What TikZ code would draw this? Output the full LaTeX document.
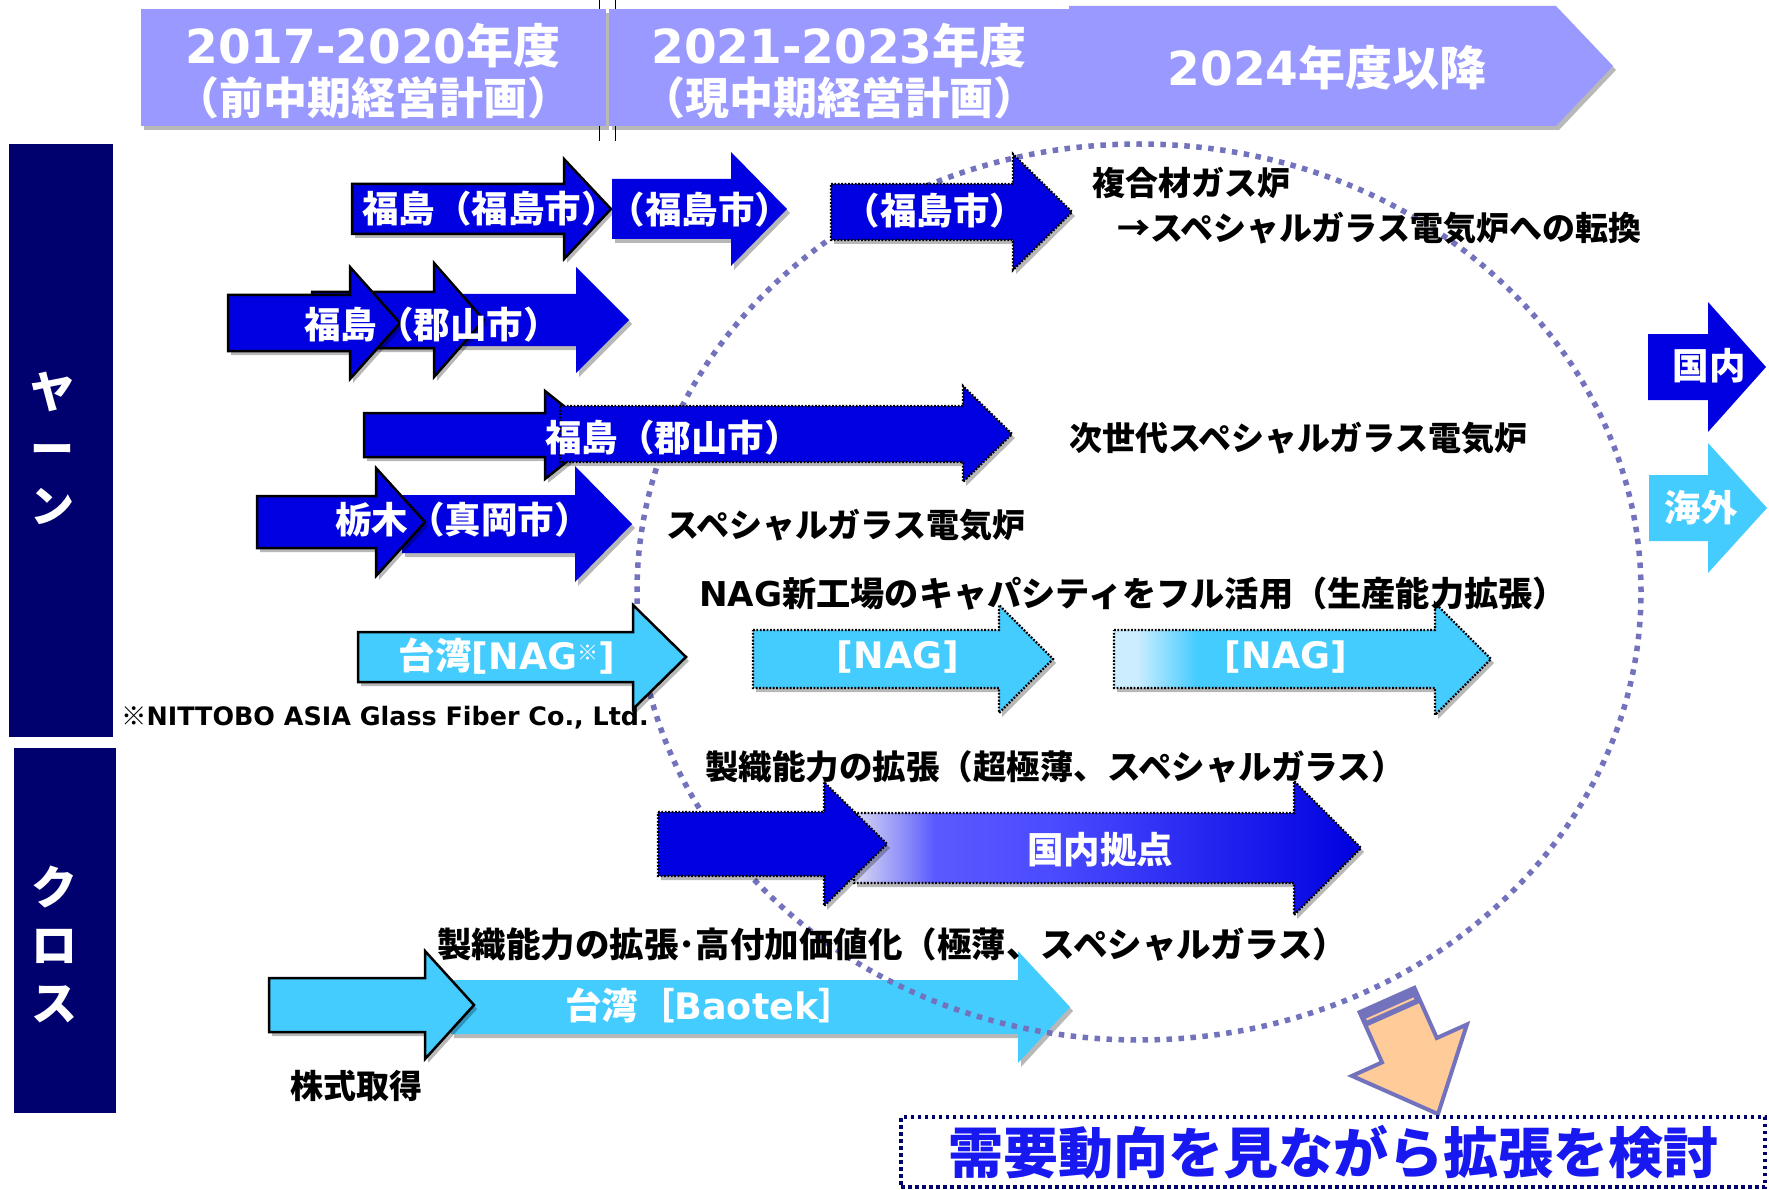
\documentclass[tikz,border=0pt]{standalone}
\usepackage{fontspec}
\setmainfont{DejaVu Sans}
\newfontfamily\jp{Noto Sans CJK JP}
\newfontfamily\lt{DejaVu Sans}
\usetikzlibrary{shadows}
\definecolor{hdr}{HTML}{9999FF}
\definecolor{navy}{HTML}{00006E}
\definecolor{blu}{HTML}{0000E0}
\definecolor{lblu}{HTML}{45CCFF}
\definecolor{ell}{HTML}{7373BD}
\definecolor{peach}{HTML}{FFCC99}
\definecolor{btxt}{HTML}{1818F0}
\pgfdeclarehorizontalshading{nagsh}{100bp}{rgb(0bp)=(0.8,0.93,1); rgb(28bp)=(0.8,0.93,1); rgb(36bp)=(0.27,0.8,1); rgb(100bp)=(0.27,0.8,1)}
\pgfdeclarehorizontalshading{kokush}{100bp}{rgb(0bp)=(0.85,0.85,0.95); rgb(25bp)=(0.85,0.85,0.95); rgb(30bp)=(0.55,0.55,0.98); rgb(33bp)=(0.35,0.35,1); rgb(45bp)=(0.29,0.29,1); rgb(70bp)=(0.05,0.05,0.9); rgb(75bp)=(0,0,0.88); rgb(100bp)=(0,0,0.88)}
% #1 style, #2 x0, #3 head base x, #4 tip x, #5 centre y, #6 body half height, #7 head half height
\newcommand{\harr}[7][]{\path[#1] (#2,{#5-#6}) -- (#3,{#5-#6}) -- (#3,{#5-#7}) -- (#4,#5) -- (#3,{#5+#7}) -- (#3,{#5+#6}) -- (#2,{#5+#6}) -- cycle;}
\begin{document}
\begin{tikzpicture}[x=1pt,y=-1pt,
 sh/.style={drop shadow={shadow xshift=3pt,shadow yshift=-4pt,opacity=0.28,fill=black}},
 solidout/.style={draw=black,line width=2.5pt,line join=miter},
 dotout/.style={draw=black,line width=2.2pt,dash pattern=on 1.8pt off 1.6pt},
 wt/.style={text=white,inner sep=0pt,font=\jp\bfseries\fontsize{36.5}{36.5}\selectfont},
 bt/.style={text=black,inner sep=0pt,anchor=west,font=\jp\bfseries\fontsize{33}{33}\selectfont},
 ht/.style={text=white,inner sep=0pt,font=\jp\bfseries\fontsize{47}{47}\selectfont},
 hts/.style={text=white,inner sep=0pt,font=\jp\bfseries\fontsize{44}{44}\selectfont},
 side/.style={text=white,inner sep=0pt,align=center},
]
\useasboundingbox (0,0) rectangle (1769,1190);
\fill[white] (0,0) rectangle (1769,1190);
% header
\draw[black,line width=1pt] (599,0) -- (599,141);
\draw[black,line width=1pt] (615,0) -- (615,141);
\fill[hdr,sh] (141,9) rectangle (606,126);
\fill[hdr,sh] (609,9) rectangle (1069,126);
\fill[hdr,sh] (1069,6) -- (1556,6) -- (1613,66) -- (1556,126) -- (1069,126) -- cycle;
\node[ht] (h1a) at (373,46) {{\lt 2017-2020}年度};
\node[hts] (h1b) at (373,98) {（前中期経営計画）};
\node[ht] (h2a) at (839,46) {{\lt 2021-2023}年度};
\node[hts] (h2b) at (839,98) {（現中期経営計画）};
\node[ht] (h3) at (1327,68) {{\lt 2024}年度以降};
% side labels
\fill[navy] (9,144) rectangle (113,737);
\fill[navy] (14,748) rectangle (116,1113);
\node[side,font=\jp\bfseries\fontsize{44}{57}\selectfont] (yarn) at (52,448) {ヤ\\ー\\ン};
\node[side,font=\jp\bfseries\fontsize{46}{58}\selectfont] (cloth) at (54,944) {ク\\ロ\\ス};
% arrow behind the ellipse
\harr[fill=lblu,sh]{451}{1018}{1070}{1007}{27}{56}
% ellipse
\draw[ell,line width=5.5pt,dash pattern=on 5.5pt off 6.5pt] (1139,592) ellipse [x radius=502pt,y radius=448pt];
% row 1
\harr[fill=blu,solidout,sh]{352}{564}{611}{209}{25}{50}
\harr[fill=blu,sh]{612}{731}{787}{209}{30}{57}
\harr[fill=blu,dotout,sh]{831}{1013}{1072}{212}{28}{58}
% row 2
\harr[fill=blu,sh]{320}{576}{629}{320}{26}{53}
\harr[fill=blu,solidout,sh]{312}{434}{484}{320}{28}{57}
\harr[fill=blu,solidout,sh]{228}{350}{400}{323}{28}{56}
% row 3
\harr[fill=blu,solidout,sh]{364}{545}{600}{435}{22}{44}
\harr[fill=blu,dotout,sh]{560}{963}{1012}{434}{28}{48}
% row 4
\harr[fill=blu,sh]{402}{575}{632}{524}{29}{58}
\harr[fill=blu,solidout,sh]{257}{376}{425}{522}{26}{54}
% row 5
\harr[fill=lblu,solidout,sh]{358}{633}{686}{657}{25}{52}
\harr[fill=lblu,dotout,sh]{753}{999}{1053}{659}{29}{54}
\harr[shade,shading=nagsh,dotout,sh]{1114}{1435}{1491}{659}{29}{56}
% row 6
\harr[shade,shading=kokush,dotout,sh]{854}{1294}{1361}{848}{35}{67}
\harr[fill=blu,dotout,sh]{658}{824}{887}{844}{32}{62}
% row 7
\harr[fill=lblu,solidout,sh]{269}{425}{474}{1005}{27}{54}
% right arrows
\harr[fill=blu]{1648}{1708}{1766}{367}{33}{65}
\harr[fill=lblu]{1649}{1708}{1767}{508}{33}{65}
% arrow texts
\node[wt] (t1) at (490,209) {福島（福島市）};
\node[wt] (t2) at (700,210) {（福島市）};
\node[wt] (t3) at (935,211) {（福島市）};
\node[wt] (t4) at (432,325) {福島（郡山市）};
\node[wt] (t5) at (673,438) {福島（郡山市）};
\node[wt] (t6) at (463,520) {栃木（真岡市）};
\node[wt] (t7) at (507,656) {台湾{\lt [NAG}\raisebox{9pt}{\fontsize{21}{21}\selectfont ※}{\lt ]}};
\node[wt] (t8) at (898,657) {\lt [NAG]};
\node[wt] (t9) at (1286,657) {\lt [NAG]};
\node[wt] (t10) at (1100,850) {国内拠点};
\node[wt] (t11) at (710,1005) {台湾［{\lt Baotek}］};
\node[wt] (t12) at (1709,366) {国内};
\node[wt] (t13) at (1701,508) {海外};
% black labels
\node[bt] (l1) at (1092,183) {複合材ガス炉};
\node[bt] (l2) at (1117,228) {→スペシャルガラス電気炉への転換};
\node[bt] (l3) at (1069,438) {次世代スペシャルガラス電気炉};
\node[bt] (l4) at (666,525) {スペシャルガラス電気炉};
\node[bt,font=\jp\bfseries\fontsize{34.2}{34.2}\selectfont] (l5) at (699,594) {{\lt NAG}新工場のキャパシティをフル活用（生産能力拡張）};
\node[bt,font=\jp\bfseries\fontsize{33.5}{33.5}\selectfont] (l6) at (705,767) {製織能力の拡張（超極薄、スペシャルガラス）};
\node[bt,font=\jp\bfseries\fontsize{34.5}{34.5}\selectfont] (l7) at (437,945) {製織能力の拡張･高付加価値化（極薄、スペシャルガラス）};
\node[bt] (l8) at (290,1086) {株式取得};
\node[anchor=west,inner sep=0pt,font=\lt\bfseries\fontsize{25.4}{25.4}\selectfont] (fn) at (121,718) {{\jp ※}NITTOBO ASIA Glass Fiber Co., Ltd.};
% orange arrow
\filldraw[fill=peach,draw=ell,line width=4pt,line join=miter] (1359.6,1012.2) -- (1414.4,987.8) -- (1436.8,1038.0) -- (1466.9,1024.5) -- (1438,1114) -- (1351.9,1075.9) -- (1382,1062.4) -- cycle;
\fill[ell] (1359.6,1012.2) -- (1414.4,987.8) -- (1420.9,1002.4) -- (1366.1,1026.8) -- cycle;
\draw[peach,line width=2pt] (1366.5,1019.5) -- (1414,998.3);
% goal box
\node[draw=navy,line width=4pt,dash pattern=on 3.5pt off 3.5pt,minimum width=864pt,minimum height=70pt,inner sep=0pt,text=btxt,font=\jp\bfseries\fontsize{55}{55}\selectfont] (goal) at (1333,1152) {需要動向を見ながら拡張を検討};
\end{tikzpicture}
\end{document}
